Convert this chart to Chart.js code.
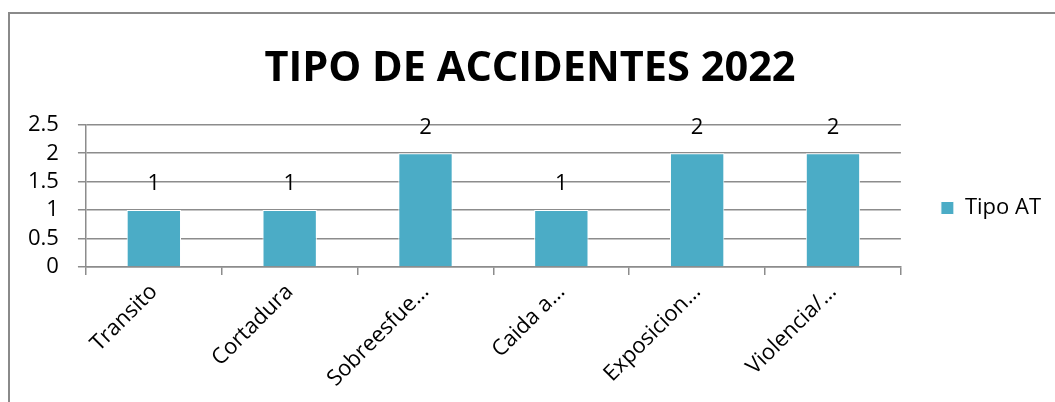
<!DOCTYPE html>
<html>
<head>
<meta charset="utf-8">
<script src="https://cdn.jsdelivr.net/npm/chart.js@4"></script>
<style>
  html, body { margin: 0; padding: 0; background: #fff; }
  #wrap { width: 1055px; height: 402px; position: relative; }
</style>
</head>
<body>
<div id="wrap"><canvas id="accChart" width="1055" height="402"></canvas></div>
<script>
const categories = ['Transito', 'Cortadura', 'Sobreesfue…', 'Caida a…', 'Exposicion…', 'Violencia/…'];
const tipoAT = [1, 1, 2, 1, 2, 2];
const yTicks = [0, 0.5, 1, 1.5, 2, 2.5];

const FONT = "'Open Sans', sans-serif";

// frame + value labels, Excel style
const frameAndLabels = {
    id: 'frameAndLabels',
    beforeDraw(chart) {
        const c = chart.ctx;
        c.save();
        c.strokeStyle = '#8a8a8a';
        c.lineWidth = 2;
        c.strokeRect(9, 13, 2000, 2000);
        c.restore();
    },
    afterDatasetsDraw(chart) {
        const c = chart.ctx;
        const meta = chart.getDatasetMeta(0);
        c.save();
        c.font = '22px ' + FONT;
        c.fillStyle = '#000';
        c.textAlign = 'center';
        c.textBaseline = 'middle';
        meta.data.forEach((bar, i) => {
            c.fillText(String(tipoAT[i]), bar.x, bar.y - 26);
        });
        c.restore();
    }
};

Chart.defaults.font.family = FONT;
Chart.defaults.color = '#000';

new Chart(document.getElementById('accChart').getContext('2d'), {
    type: 'bar',
    data: {
        labels: categories,
        datasets: [{
            label: 'Tipo AT',
            data: tipoAT,
            backgroundColor: '#4bacc6',
            borderColor: '#ffffff',
            borderWidth: 1,
            barPercentage: 0.4,
            categoryPercentage: 1
        }]
    },
    options: {
        responsive: false,
        animation: false,
        layout: { padding: { left: 9, right: 4, top: 14, bottom: 0 } },
        plugins: {
            title: {
                display: true,
                text: 'TIPO DE ACCIDENTES 2022',
                font: { size: 41.5, weight: 'bold', family: FONT },
                color: '#000',
                padding: { top: 30, bottom: 31 }
            },
            legend: {
                position: 'right',
                labels: {
                    boxWidth: 13,
                    boxHeight: 13,
                    padding: 40,
                    font: { size: 22 }
                }
            },
            tooltip: { enabled: false }
        },
        scales: {
            y: {
                min: 0,
                max: 2.5,
                afterBuildTicks(scale) { scale.ticks = yTicks.map(v => ({ value: v })); },
                ticks: { font: { size: 22 }, padding: 19, autoSkip: false, callback: v => String(v) },
                grid: { color: '#8c8c8c', lineWidth: 1.5, tickLength: 8 },
                border: { color: '#8c8c8c', width: 1.5 }
            },
            x: {
                ticks: { font: { size: 22 }, minRotation: 45, maxRotation: 45, padding: 4, autoSkip: false },
                grid: { drawOnChartArea: false, color: '#8c8c8c', lineWidth: 1.5, tickLength: 8 },
                border: { color: '#8c8c8c', width: 1.5 },
                afterFit(scale) { scale.height = 135; }
            }
        }
    },
    plugins: [frameAndLabels]
});
</script>
</body>
</html>
